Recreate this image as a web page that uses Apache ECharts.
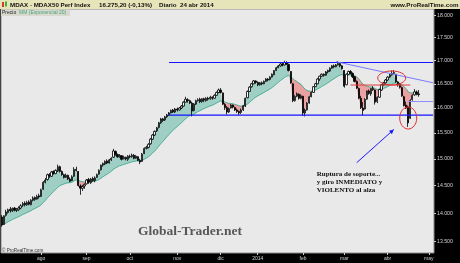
<!DOCTYPE html>
<html><head><meta charset="utf-8">
<script src="https://cdn.jsdelivr.net/npm/echarts@6/dist/echarts.min.js"></script>
<style>html,body{margin:0;padding:0;background:#000}#c{width:460px;height:263px}</style>
</head><body><div id="c"></div>
<script>
// ---- data ----
const startDate = '2013-07-05';
const totalDays = 210;
const holidays = ['2013-12-24','2013-12-25','2013-12-26','2013-12-31','2014-01-01','2014-04-18','2014-04-21','2014-05-01'];
const monthLabels = ['ene','feb','mar','abr','may','jun','jul','ago','sep','oct','nov','dic'];
const yTicks = [13500,14000,14500,15000,15500,16000,16500,17000,17500,18000];

const opens = [13930,13800,13960,14010,14070,14040,14090,14050,14060,14090,14140,14180,14150,14200,14150,14230,14280,14250,14310,
14300,14430,14560,14610,14700,14670,14760,14720,14770,14850,
14760,14700,14650,14690,14620,14590,14670,14800,14760,14490,
14450,14490,14530,14610,14550,14630,14590,14650,14710,14790,
14880,14900,14960,14920,14980,15030,15140,15080,15040,15060,
15000,15030,14990,15050,15040,15070,15010,15040,14970,14950,
15100,15200,15220,15290,15380,15460,15540,15610,15700,15780,
15760,15820,15860,15900,15960,15920,15980,15960,16000,16040,
16120,16170,16150,16100,15950,16080,16150,16180,16130,16190,
16150,16200,16190,16220,16200,16260,16320,16370,16310,16070,
16010,15920,16000,16060,16010,15960,15930,15910,15960,16040,
16210,16340,16440,16500,16560,16530,16480,16520,16500,16550,
16600,16590,16640,16690,16780,16840,16880,16920,16900,16950,
16910,16760,16500,16150,16240,16280,16200,16240,15900,15960,
16100,16230,16320,16440,16500,16600,16660,16700,16680,16750,
16770,16830,16880,16860,16900,16930,16880,16780,16480,16700,
16760,16720,16650,16550,16400,16200,16000,15980,16180,16350,
16290,16400,16370,16130,16220,16370,16480,16520,16580,16640,
16690,16720,16700,16540,16480,16420,16230,16060,16020,15790,
16170,16270,16330,16290];
const highs = [13965,13960,14060,14080,14110,14100,14110,14090,14120,14160,14200,14210,14220,14230,14250,14300,14300,14330,14350,
14440,14580,14640,14720,14730,14770,14780,14800,14890,14870,
14780,14720,14720,14700,14650,14690,14840,14850,14770,14520,
14510,14540,14620,14640,14640,14660,14670,14720,14800,14890,
14930,14970,14990,15000,15030,15190,15160,15100,15090,15070,
15060,15040,15070,15080,15100,15090,15070,15050,15000,15110,
15220,15250,15300,15400,15480,15550,15620,15720,15800,15800,
15840,15880,15920,15970,15980,16000,16010,16020,16060,16140,
16230,16200,16170,16130,16100,16170,16200,16210,16200,16210,
16220,16230,16250,16240,16280,16340,16400,16410,16320,16100,
16040,16010,16080,16070,16030,15990,15950,15990,16060,16210,
16360,16450,16520,16580,16570,16550,16540,16550,16570,16620,
16620,16660,16720,16790,16860,16900,16940,16950,16990,16980,
16930,16770,16510,16260,16320,16300,16280,16250,15990,16120,
16250,16340,16450,16520,16620,16670,16720,16720,16770,16800,
16850,16900,16910,16920,16980,16950,16900,16790,16720,16780,
16790,16740,16660,16570,16420,16250,16120,16200,16360,16380,
16410,16450,16380,16240,16400,16490,16540,16600,16660,16710,
16780,16790,16710,16560,16520,16440,16250,16130,16050,16180,
16280,16390,16360,16370];
const lows = [13760,13790,13940,13990,14010,14020,14030,14020,14040,14070,14110,14120,14130,14140,14140,14210,14220,14240,14260,
14290,14420,14540,14590,14640,14660,14700,14710,14750,14740,
14680,14630,14640,14600,14560,14580,14660,14760,14480,14330,
14400,14440,14520,14530,14530,14570,14560,14640,14700,14780,
14850,14880,14900,14910,14960,15020,15060,15020,15020,14970,
14990,14970,14960,15010,15020,14990,15000,14960,14900,14940,
15090,15180,15200,15270,15360,15440,15520,15590,15680,15720,
15740,15800,15840,15890,15900,15900,15930,15950,15980,16030,
16110,16110,16080,15830,15930,16060,16130,16100,16110,16120,
16130,16150,16170,16170,16190,16250,16300,16300,16060,15960,
15870,15900,15990,15990,15940,15900,15860,15880,15940,16020,
16200,16330,16420,16490,16500,16450,16460,16470,16490,16540,
16550,16570,16630,16680,16770,16830,16860,16870,16890,16900,
16760,16500,16120,16130,16220,16170,16180,15840,15830,15950,
16090,16220,16310,16430,16490,16560,16640,16650,16670,16720,
16750,16820,16830,16850,16890,16850,16800,16420,16470,16690,
16700,16620,16530,16390,16180,15980,15850,15970,16170,16270,
16250,16350,16070,16100,16210,16350,16460,16500,16560,16620,
16670,16700,16520,16440,16400,16230,16030,15980,15620,15780,
16150,16250,16260,16230];
const closes = [13790,13950,14020,14060,14040,14080,14050,14070,14090,14130,14170,14150,14190,14160,14230,14270,14250,14300,14290,
14420,14560,14600,14700,14680,14750,14720,14780,14850,14760,
14700,14650,14690,14620,14580,14660,14800,14780,14500,14450,
14480,14520,14600,14560,14620,14590,14640,14700,14780,14880,
14910,14950,14920,14980,15010,15150,15080,15040,15060,14990,
15030,15000,15050,15040,15070,15010,15050,14970,14940,15090,
15200,15220,15280,15380,15460,15530,15600,15700,15780,15750,
15820,15860,15900,15950,15920,15980,15960,16000,16040,16120,
16180,16150,16100,15940,16080,16150,16170,16130,16190,16160,
16200,16180,16220,16200,16260,16320,16370,16320,16080,16010,
15920,15990,16060,16020,15960,15930,15900,15960,16050,16200,
16340,16430,16500,16560,16530,16480,16520,16500,16550,16600,
16580,16640,16700,16780,16840,16880,16920,16900,16950,16920,
16780,16520,16150,16240,16290,16200,16250,15900,15960,16100,
16230,16320,16440,16500,16600,16660,16700,16680,16750,16780,
16830,16880,16860,16900,16930,16880,16820,16450,16700,16760,
16720,16650,16550,16410,16200,16010,15950,16180,16350,16300,
16400,16380,16120,16220,16380,16480,16520,16580,16640,16690,
16720,16740,16540,16480,16430,16250,16050,16000,15700,16150,
16260,16330,16296.4,16275.2];

// ---- annotation levels (values) ----
const supportLevel = 15858, resistLevel = 16952, neckLevel = 16474, reboundLevel = 16132;

// ---- build ----
function buildDates(){
  const out=[]; const d=new Date(startDate+'T00:00:00Z');
  while(out.length<totalDays){
    const dow=d.getUTCDay(); const s=d.toISOString().slice(0,10);
    if(dow!==0&&dow!==6&&holidays.indexOf(s)<0) out.push(s);
    d.setUTCDate(d.getUTCDate()+1);
  }
  return out;
}
const dates = buildDates();
const monthStart = dates.map((s,i)=> i>0 && s.slice(5,7)!==dates[i-1].slice(5,7));
const ema = []; (function(){ const a=2/21; let e=closes[0]; closes.forEach((c,i)=>{ e = i===0?c:a*c+(1-a)*e; ema.push(e); }); })();
const fillBase = closes.map((c,i)=>Math.min(c,ema[i]));
const fillUp = closes.map((c,i)=>Math.max(c-ema[i],0));
const fillDown = closes.map((c,i)=>Math.max(ema[i]-c,0));
const candles = closes.map((c,i)=>[opens[i],c,lows[i],highs[i]]);
const last = dates.length-1;

// annotation segments: [cat1, value1, cat2, value2]
const segs = [
  [81,resistLevel,last,resistLevel],
  [81,supportLevel,last,supportLevel],
  [162,16970,last,16521],
  [197,reboundLevel,last,reboundLevel],
  [169,neckLevel,198,neckLevel],
  [172,14926,190,15569]
];
const segStyle = [
  {stroke:'#1414ff', lineWidth:1.2},
  {stroke:'#1414ff', lineWidth:1.2},
  {stroke:'#7a7aff', lineWidth:1},
  {stroke:'#8c8cff', lineWidth:1},
  {stroke:'#e23a3a', lineWidth:1},
  {stroke:'#1a1aff', lineWidth:1, arrow:true}
];
const ellipses = [[189,16622],[197,15798]];
const ellipseSize = [[14,7],[8.5,11]];

const chart = echarts.init(document.getElementById('c'), null, {renderer:'canvas', width:460, height:263});
const SANS = 'Liberation Sans, Arial, sans-serif';
const SERIF = 'Liberation Serif, Times New Roman, serif';
chart.setOption({
  animation:false,
  backgroundColor:'#000',
  grid:{left:1, right:26, top:9, bottom:10, show:true, backgroundColor:'#e9e9e9', borderColor:'#8a8a8a', borderWidth:1},
  xAxis:{type:'category', data:dates, boundaryGap:true,
    axisLine:{show:false},
    axisTick:{show:true, interval:(i)=>monthStart[i], alignWithLabel:true, length:2, lineStyle:{color:'#cfcfcf', width:1}},
    axisLabel:{interval:(i)=>monthStart[i], color:'#cfcfcf', fontSize:5, fontFamily:SANS, margin:3.5,
      formatter:(v)=>{const m=+v.slice(5,7); return m===1? v.slice(0,4) : monthLabels[m-1];}},
    splitLine:{show:false}},
  yAxis:{type:'log', logBase:10, position:'right', min:13308, max:18145,
    axisLine:{show:false}, splitLine:{show:false}, minorTick:{show:false},
    axisTick:{show:true, customValues:yTicks, length:2, lineStyle:{color:'#cfcfcf'}},
    axisLabel:{customValues:yTicks, color:'#d2d2d2', fontSize:5.2, fontFamily:SANS, margin:3,
      formatter:(v)=>(v/1000).toFixed(3)}},
  series:[
    {type:'line', data:fillBase, stack:'f', stackStrategy:'all', symbol:'none', lineStyle:{width:0, opacity:0}, silent:true, z:1},
    {type:'line', data:fillUp, stack:'f', stackStrategy:'all', symbol:'none', lineStyle:{width:0, opacity:0}, areaStyle:{color:'#9fcfc4', opacity:1}, silent:true, z:1},
    {type:'line', data:fillDown, stack:'f', stackStrategy:'all', symbol:'none', lineStyle:{width:0, opacity:0}, areaStyle:{color:'#e9a1a1', opacity:1}, silent:true, z:1},
    {type:'line', data:ema, symbol:'none', lineStyle:{color:'#3ba98b', width:0.9}, silent:true, z:2},
    {type:'candlestick', data:candles, barWidth:1.8, z:3,
      itemStyle:{color:'#ffffff', color0:'#000', borderColor:'#000', borderColor0:'#000', borderWidth:0.8}},
    {type:'custom', coordinateSystem:'cartesian2d', data:segs, encode:{x:[0,2], y:[1,3]}, z:8, silent:true, clip:false,
      renderItem:(params, api)=>{
        const p1 = api.coord([api.value(0), api.value(1)]);
        const p2 = api.coord([api.value(2), api.value(3)]);
        const st = segStyle[params.dataIndex];
        const line = {type:'line', shape:{x1:p1[0], y1:p1[1], x2:p2[0], y2:p2[1]}, style:{stroke:st.stroke, lineWidth:st.lineWidth}};
        if(!st.arrow) return line;
        const dx=p2[0]-p1[0], dy=p2[1]-p1[1], L=Math.hypot(dx,dy), ux=dx/L, uy=dy/L, hl=4.5, hw=2.2;
        const bx=p2[0]-ux*hl, by=p2[1]-uy*hl;
        return {type:'group', children:[line,
          {type:'polygon', shape:{points:[[p2[0],p2[1]],[bx-uy*hw,by+ux*hw],[bx+uy*hw,by-ux*hw]]}, style:{fill:st.stroke}}]};
      }},
    {type:'custom', coordinateSystem:'cartesian2d', data:ellipses, encode:{x:0,y:1}, z:9, silent:true, clip:false,
      renderItem:(params, api)=>{
        const p = api.coord([api.value(0), api.value(1)]);
        const s = ellipseSize[params.dataIndex];
        return {type:'ellipse', shape:{cx:p[0], cy:p[1], rx:s[0], ry:s[1]}, style:{fill:'none', stroke:'#e23030', lineWidth:1}};
      }}
  ],
  graphic:[
    {type:'rect', shape:{x:0,y:0,width:460,height:9}, style:{fill:'#e6e4b9'}, z:10},
    {type:'rect', shape:{x:2,y:2,width:2,height:5}, style:{fill:'#d33'}, z:11},
    {type:'rect', shape:{x:5,y:1.5,width:2,height:5}, style:{fill:'#3b3'}, z:11},
    {type:'text', x:10, y:4.8, style:{text:'MDAX - MDAX50 Perf Index', font:'bold 6.2px '+SANS, fill:'#111', verticalAlign:'middle'}, z:11},
    {type:'text', x:99, y:4.8, style:{text:'16.275,20 (-0,13%)', font:'bold 6.2px '+SANS, fill:'#111', verticalAlign:'middle'}, z:11},
    {type:'text', x:159, y:4.8, style:{text:'Diario  24 abr 2014', font:'bold 6.2px '+SANS, fill:'#111', verticalAlign:'middle'}, z:11},
    {type:'text', x:458.5, y:4.8, style:{text:'www.ProRealTime.com', font:'bold 6.2px '+SANS, fill:'#111', align:'right', verticalAlign:'middle'}, z:11},
    {type:'rect', shape:{x:1,y:9.5,width:69,height:6.5}, style:{fill:'#d9d9cf'}, z:10},
    {type:'text', x:2, y:12.8, style:{text:'Precio', font:'5px '+SANS, fill:'#222', verticalAlign:'middle'}, z:11},
    {type:'text', x:19, y:12.8, style:{text:'MM (Exponencial 20)', font:'5px '+SANS, fill:'#4aa57a', verticalAlign:'middle'}, z:11},
    {type:'text', x:2, y:250.5, style:{text:'\u00a9 ProRealTime.com', font:'4.6px '+SANS, fill:'#333', verticalAlign:'middle'}, z:11},
    {type:'text', x:138, y:232, style:{text:'Global-Trader.net', font:'bold 13.5px '+SERIF, fill:'#565656', verticalAlign:'middle'}, z:11},
    {type:'text', x:316.7, y:174, style:{text:'Ruptura de soporte...', font:'bold 7px '+SERIF, fill:'#111', verticalAlign:'middle'}, z:11},
    {type:'text', x:316.7, y:182.3, style:{text:'y giro INMEDIATO y', font:'bold 7px '+SERIF, fill:'#111', verticalAlign:'middle'}, z:11},
    {type:'text', x:316.7, y:190.5, style:{text:'VIOLENTO al alza', font:'bold 7px '+SERIF, fill:'#111', verticalAlign:'middle'}, z:11}
  ]
});
</script></body></html>
